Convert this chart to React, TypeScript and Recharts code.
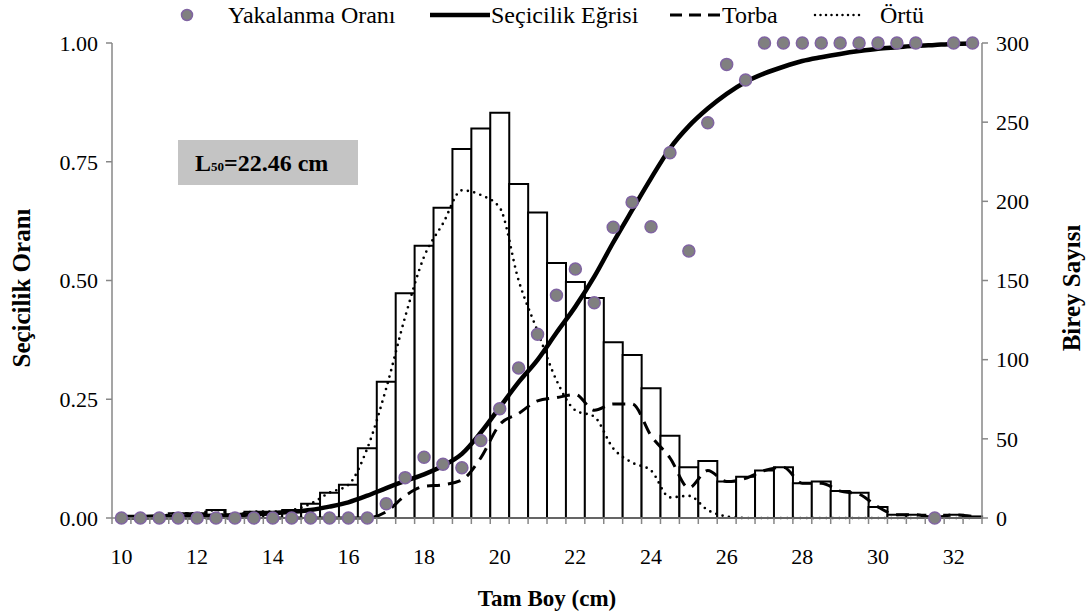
import React from 'react';
import { ComposedChart, Bar, Line, XAxis, YAxis, Customized } from 'recharts';

const W = 1087;
const H = 616;
const FONT = "'Liberation Serif', 'Times New Roman', serif";
const AXIS_GRAY = '#878787';

// Length classes (cm)
const boy = [
  10, 10.5, 11, 11.5, 12, 12.5, 13, 13.5, 14, 14.5, 15, 15.5, 16, 16.5, 17, 17.5,
  18, 18.5, 19, 19.5, 20, 20.5, 21, 21.5, 22, 22.5, 23, 23.5, 24, 24.5, 25, 25.5,
  26, 26.5, 27, 27.5, 28, 28.5, 29, 29.5, 30, 30.5, 31, 31.5, 32, 32.5,
];

// Total number of individuals per length class (bars)
const toplam = [
  0, 0, 1, 3, 3, 5, 2, 4, 4, 5, 9, 16, 21, 44, 86, 142,
  172, 196, 233, 246, 256, 211, 193, 161, 149, 139, 111, 103, 82, 52, 32, 36,
  23, 26, 30, 32, 22, 23, 17, 16, 7, 2, 2, 1, 2, 1,
];

// Codend (Torba) counts
const torba = [
  0, 0, 0, 0, 0, 0, 0, 0, 0, 0, 0, 0, 0, 0, 4, 14,
  20, 21, 24, 38, 59, 66, 74, 76, 78, 68, 72, 72, 52, 38, 19, 30,
  23, 25, 30, 32, 22, 22, 17, 15, 7, 2, 2, 0, 2, 1,
];

// Cover (Örtü) counts
const ortu = [
  0, 0, 1, 3, 3, 5, 2, 4, 4, 5, 9, 16, 21, 44, 82, 127,
  165, 186, 207, 204, 196, 150, 118, 87, 68, 64, 44, 35, 30, 13, 14, 5,
  1, 0, 0, 0, 0, 0, 0, 0, 0, 0, 0, 1, 0, 0,
];

// Observed retention ratio
const yakalanma = [
  0, 0, 0, 0, 0, 0, 0, 0, 0, 0, 0, 0, 0, 0, 0.03, 0.085,
  0.128, 0.113, 0.106, 0.163, 0.23, 0.316, 0.387, 0.469, 0.524, 0.453, 0.612, 0.665, 0.613, 0.769, 0.562, 0.832,
  0.955, 0.922, 1, 1, 1, 1, 1, 1, 1, 1, 1, 0, 1, 1,
];

// Fitted selectivity curve
const secicilik = [
  0.002, 0.002, 0.003, 0.003, 0.004, 0.005, 0.006, 0.008, 0.010, 0.013, 0.017, 0.024, 0.033, 0.047, 0.063, 0.078,
  0.092, 0.110, 0.135, 0.180, 0.233, 0.286, 0.333, 0.390, 0.445, 0.508, 0.580, 0.648, 0.715, 0.778, 0.825, 0.862,
  0.893, 0.918, 0.936, 0.950, 0.962, 0.970, 0.977, 0.983, 0.988, 0.991, 0.994, 0.996, 0.998, 0.999,
];

const xLabels = [10, 12, 14, 16, 18, 20, 22, 24, 26, 28, 30, 32];
const leftTicks = [0, 0.25, 0.5, 0.75, 1];
const rightTicks = [0, 50, 100, 150, 200, 250, 300];

const data = boy.map((b, i) => ({
  boy: b,
  toplam: toplam[i],
  torba: torba[i],
  ortu: ortu[i],
  oran: yakalanma[i],
  egri: secicilik[i],
}));

// Category-axis tick: marks sit on the class boundaries, labels every 2 cm
function BoyTick(props: any) {
  const { x, y, payload, index } = props;
  const half = payload && payload.offset ? payload.offset : 0;
  const last = index === boy.length - 1;
  return (
    <g>
      <line x1={x - half} x2={x - half} y1={y} y2={y + 6} stroke={AXIS_GRAY} strokeWidth={1.5} />
      {last && <line x1={x + half} x2={x + half} y1={y} y2={y + 6} stroke={AXIS_GRAY} strokeWidth={1.5} />}
      {xLabels.includes(payload.value) && (
        <text x={x} y={y + 46} textAnchor="middle" fontSize={22} fontFamily={FONT} fill="#000">
          {payload.value}
        </text>
      )}
    </g>
  );
}

function Decorations() {
  const legendY = 15;
  const textStyle = { fontFamily: FONT, fontSize: 24, fill: '#000' };
  return (
    <g>
      {/* legend */}
      <circle cx={187} cy={legendY} r={5.5} fill="#808080" stroke="#8064a2" strokeWidth={1.5} />
      <text x={228} y={legendY + 8} {...textStyle}>Yakalanma Oranı</text>
      <line x1={430} x2={490} y1={legendY} y2={legendY} stroke="#000" strokeWidth={4.5} />
      <text x={491} y={legendY + 8} {...textStyle}>Seçicilik Eğrisi</text>
      <line x1={670} x2={720} y1={legendY} y2={legendY} stroke="#000" strokeWidth={3} strokeDasharray="12 7" />
      <text x={722} y={legendY + 8} {...textStyle}>Torba</text>
      <line x1={815} x2={860} y1={legendY} y2={legendY} stroke="#000" strokeWidth={2.5} strokeDasharray="0 5.5" strokeLinecap="round" />
      <text x={880} y={legendY + 8} {...textStyle}>Örtü</text>

      {/* L50 box */}
      <rect x={178} y={140} width={180} height={45} fill="#c4c4c4" />
      <text x={195} y={171} fontFamily={FONT} fontSize={24} fontWeight="bold" fill="#000">
        L<tspan fontSize={13}>50</tspan>=22.46 cm
      </text>

      {/* axis titles */}
      <text x={547} y={606} textAnchor="middle" fontFamily={FONT} fontSize={23} fontWeight="bold" fill="#000">
        Tam Boy (cm)
      </text>
      <text
        x={0}
        y={0}
        transform="translate(30 288) rotate(-90)"
        textAnchor="middle"
        fontFamily={FONT}
        fontSize={25}
        fontWeight="bold"
        fill="#000"
      >
        Seçicilik Oranı
      </text>
      <text
        x={0}
        y={0}
        transform="translate(1080 288) rotate(-90)"
        textAnchor="middle"
        fontFamily={FONT}
        fontSize={25}
        fontWeight="bold"
        fill="#000"
      >
        Birey Sayısı
      </text>
    </g>
  );
}

export default function App() {
  const tickFont = { fontFamily: FONT, fontSize: 22, fill: '#000' };
  return (
    <div style={{ position: 'absolute', left: 0, top: 0, width: W, height: H, background: '#fff' }}>
      <ComposedChart
        width={W}
        height={H}
        data={data}
        margin={{ top: 43, right: 0, bottom: 0, left: 0 }}
        barCategoryGap={0}
        barGap={0}
      >
        <XAxis
          dataKey="boy"
          type="category"
          interval={0}
          height={98}
          tickSize={0}
          tickMargin={0}
          tickLine={false}
          axisLine={{ stroke: AXIS_GRAY, strokeWidth: 1.5 }}
          tick={<BoyTick />}
        />
        <YAxis
          yAxisId="left"
          orientation="left"
          width={112}
          domain={[0, 1]}
          ticks={leftTicks}
          interval={0}
          tickFormatter={(v: number) => v.toFixed(2)}
          tickSize={6}
          tickMargin={8}
          tickLine={{ stroke: AXIS_GRAY, strokeWidth: 1.5 }}
          axisLine={{ stroke: AXIS_GRAY, strokeWidth: 1.5 }}
          tick={tickFont}
        />
        <YAxis
          yAxisId="right"
          orientation="right"
          width={105}
          domain={[0, 300]}
          ticks={rightTicks}
          interval={0}
          tickSize={6}
          tickMargin={8}
          tickLine={{ stroke: AXIS_GRAY, strokeWidth: 1.5 }}
          axisLine={{ stroke: AXIS_GRAY, strokeWidth: 1.5 }}
          tick={tickFont}
        />
        <Bar
          yAxisId="right"
          dataKey="toplam"
          fill="#ffffff"
          stroke="#000"
          strokeWidth={2}
          isAnimationActive={false}
        />
        <Line
          yAxisId="right"
          dataKey="ortu"
          type="monotone"
          stroke="#000"
          strokeWidth={2.7}
          strokeDasharray="0 6.5"
          strokeLinecap="round"
          dot={false}
          activeDot={false}
          isAnimationActive={false}
        />
        <Line
          yAxisId="right"
          dataKey="torba"
          type="monotone"
          stroke="#000"
          strokeWidth={3}
          strokeDasharray="13 8"
          dot={false}
          activeDot={false}
          isAnimationActive={false}
        />
        <Line
          yAxisId="left"
          dataKey="egri"
          type="monotone"
          stroke="#000"
          strokeWidth={4.5}
          dot={false}
          activeDot={false}
          isAnimationActive={false}
        />
        <Line
          yAxisId="left"
          dataKey="oran"
          stroke="none"
          dot={{ r: 6, fill: '#808080', stroke: '#8064a2', strokeWidth: 1.5 }}
          activeDot={false}
          isAnimationActive={false}
        />
        <Customized component={Decorations} />
      </ComposedChart>
    </div>
  );
}
